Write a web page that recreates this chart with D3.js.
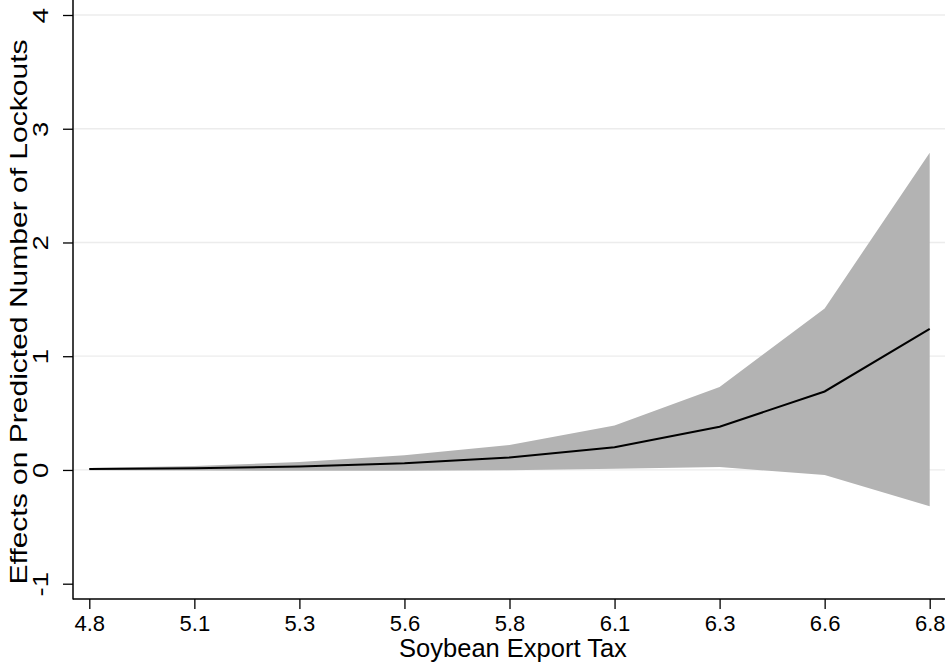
<!DOCTYPE html>
<html>
<head>
<meta charset="utf-8">
<script src="https://cdn.jsdelivr.net/npm/d3@7"></script>
<style>
  body { margin: 0; background: #fff; }
  text { font-family: "Liberation Sans", Arial, Helvetica, sans-serif; fill: #000; }
</style>
</head>
<body>
<div class="container"></div>
<script>
var SVG_WIDTH = 948, SVG_HEIGHT = 666;

// soybean export tax values (evaluated points) and their displayed labels
var taxValues = [4.8, 5.05, 5.3, 5.55, 5.8, 6.05, 6.3, 6.55, 6.8];
var taxLabels = ["4.8", "5.1", "5.3", "5.6", "5.8", "6.1", "6.3", "6.6", "6.8"];
// effect estimate and 95% CI bounds
var effect = [0.008, 0.015, 0.03, 0.058, 0.11, 0.2, 0.38, 0.69, 1.24];
var upperCI = [0.018, 0.035, 0.07, 0.13, 0.22, 0.39, 0.73, 1.42, 2.79];
var lowerCI = [-0.002, -0.005, -0.008, -0.008, -0.002, 0.01, 0.026, -0.045, -0.32];
var yTicks = [-1, 0, 1, 2, 3, 4];

document.addEventListener('DOMContentLoaded', function () {
    var svg = d3.select(".container").append("svg")
        .attr("width", SVG_WIDTH)
        .attr("height", SVG_HEIGHT);

    var left = 73, right = 945, bottom = 599;

    var x = d3.scaleLinear().domain([4.8, 6.8]).range([89.3, 929.7]);
    var y = d3.scaleLinear().domain([-1, 4]).range([583.7, 15]);

    var rows = taxValues.map(function (t, i) {
        return { t: t, est: effect[i], hi: upperCI[i], lo: lowerCI[i] };
    });

    // grid
    svg.append("g").selectAll("line")
        .data(yTicks.filter(function (d) { return d >= 0; }))
        .enter().append("line")
        .attr("x1", left + 1).attr("x2", right)
        .attr("y1", function (d) { return y(d); })
        .attr("y2", function (d) { return y(d); })
        .attr("stroke", "#ececec")
        .attr("stroke-width", 1.3);

    svg.append("path")
        .datum(rows)
        .attr("fill", "#b3b3b3")
        .attr("d", d3.area()
            .x(function (d) { return x(d.t); })
            .y0(function (d) { return y(d.lo); })
            .y1(function (d) { return y(d.hi); }));

    svg.append("path")
        .datum(rows)
        .attr("fill", "none")
        .attr("stroke", "#000")
        .attr("stroke-width", 2)
        .attr("d", d3.line()
            .x(function (d) { return x(d.t); })
            .y(function (d) { return y(d.est); }));

    var yAxis = svg.append("g")
        .attr("transform", "translate(" + left + ",0)")
        .call(d3.axisLeft(y).tickValues(yTicks).tickSize(10)
            .tickFormat(function (d) { return String(d); }));
    yAxis.select(".domain").remove();
    yAxis.selectAll("text")
        .attr("x", 0).attr("y", 0).attr("dy", null)
        .attr("transform", "translate(-25,0) rotate(-90) scale(1.25,1)")
        .attr("text-anchor", "middle")
        .style("font-size", "22px");

    var xAxis = svg.append("g")
        .attr("transform", "translate(0," + bottom + ")")
        .call(d3.axisBottom(x).tickValues(taxValues).tickSize(10).tickPadding(6)
            .tickFormat(function (d, i) { return taxLabels[i]; }));
    xAxis.select(".domain").remove();
    xAxis.selectAll("text").style("font-size", "22px");

    svg.selectAll(".tick line").attr("stroke", "#000").attr("stroke-width", 1.3);

    // axis lines
    svg.append("line").attr("x1", left).attr("x2", left).attr("y1", 0).attr("y2", bottom + 0.5)
        .attr("stroke", "#000").attr("stroke-width", 1.5);
    svg.append("line").attr("x1", left).attr("x2", right).attr("y1", bottom).attr("y2", bottom)
        .attr("stroke", "#000").attr("stroke-width", 1.5);

    svg.append("text")
        .attr("x", 513).attr("y", 657)
        .attr("text-anchor", "middle")
        .style("font-size", "25.5px")
        .text("Soybean Export Tax");

    svg.append("text")
        .attr("transform", "translate(27," + 312 + ") rotate(-90)")
        .attr("text-anchor", "middle")
        .attr("textLength", 545)
        .attr("lengthAdjust", "spacingAndGlyphs")
        .style("font-size", "24px")
        .text("Effects on Predicted Number of Lockouts");
});
</script>
</body>
</html>
